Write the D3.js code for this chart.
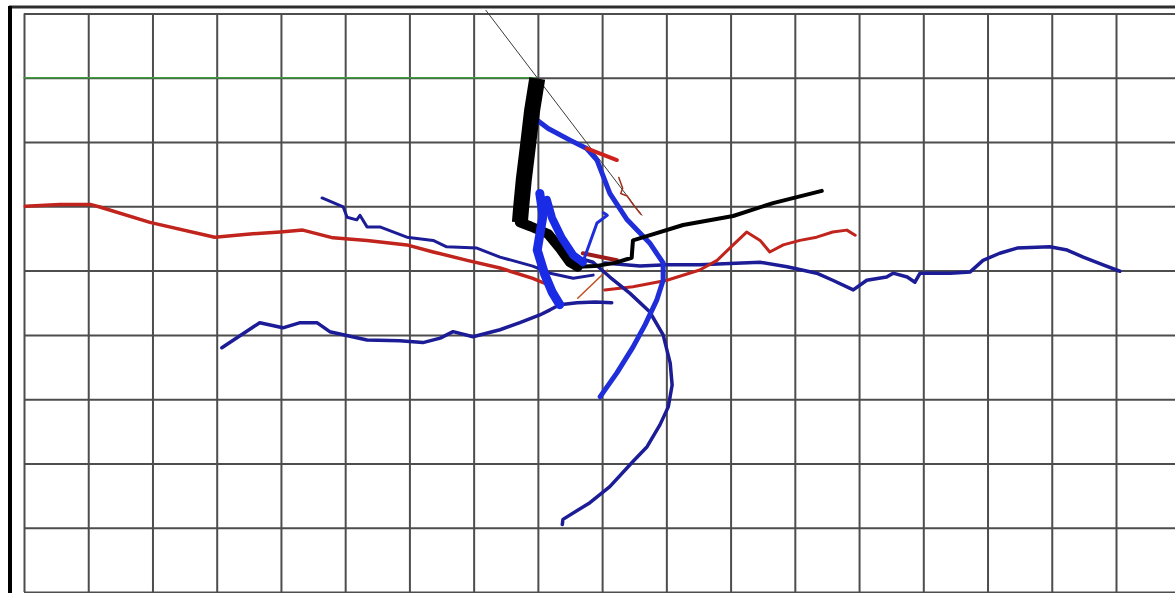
<!DOCTYPE html>
<html>
<head>
<meta charset="utf-8">
<script src="https://cdn.jsdelivr.net/npm/d3@7"></script>
<style>
  body { margin: 0; background: #fff; }
  svg { display: block; }
</style>
</head>
<body>
<div id="chart"></div>
<script>
// grid ticks (grid units)
var xTicks = d3.range(0, 19);
var yTicks = d3.range(0, 10);

// traces, [x, y] in grid units, y counted downward
var redLeft = [[0.02,3.00],[0.56,2.97],[1.03,2.97],[1.18,3.01],[1.96,3.25],[2.97,3.48],[3.52,3.43],[3.99,3.40],[4.34,3.37],[4.81,3.49],[5.34,3.53],[5.96,3.60],[6.37,3.71],[6.90,3.84],[7.41,3.96],[7.92,4.12],[8.16,4.22]];
var blueUpperLeft = [[4.64,2.87],[4.97,3.01],[5.03,3.17],[5.18,3.21],[5.23,3.14],[5.34,3.32],[5.54,3.32],[5.96,3.48],[6.37,3.53],[6.58,3.63],[7.05,3.65],[7.41,3.79],[7.92,3.93],[8.19,4.04],[8.55,4.12],[8.86,4.07]];
var blueLowerLeft = [[3.08,5.20],[3.67,4.81],[4.03,4.89],[4.30,4.81],[4.56,4.81],[4.76,4.95],[5.34,5.08],[5.85,5.09],[6.21,5.12],[6.48,5.05],[6.68,4.95],[6.99,5.03],[7.41,4.92],[7.72,4.81],[8.03,4.69],[8.19,4.61],[8.34,4.53],[8.61,4.50],[8.89,4.49],[9.15,4.50]];
var blueCentre = [[8.03,2.80],[8.08,3.14],[7.99,3.68],[8.11,4.07],[8.22,4.33],[8.34,4.53]];
var blueCentre2 = [[8.14,2.90],[8.22,3.18],[8.37,3.49],[8.55,3.76],[8.70,3.87]];
var blackThick = [[7.99,1.01],[7.91,1.51],[7.85,2.02],[7.78,2.59],[7.74,3.01],[7.72,3.25]];
var blackMid = [[7.72,3.25],[7.88,3.31],[8.16,3.43],[8.34,3.65],[8.50,3.87],[8.62,3.94]];
var blackThin = [[8.62,3.94],[8.89,3.93],[9.20,3.88],[9.46,3.80],[9.48,3.53],[9.71,3.46],[10.26,3.29],[11.04,3.15],[11.66,2.95],[12.42,2.76]];
var blueArc = [[7.99,1.66],[8.16,1.79],[8.50,1.97],[8.76,2.10],[8.92,2.28],[9.12,2.80],[9.39,3.21],[9.74,3.57],[9.95,3.88],[9.95,4.15],[9.85,4.46],[9.67,4.84],[9.48,5.19],[9.23,5.59],[8.97,5.96]];
var blueDown = [[8.62,3.80],[8.86,3.87],[9.12,4.10],[9.43,4.35],[9.74,4.64],[9.95,5.00],[10.06,5.44],[10.09,5.78],[10.03,6.12],[9.90,6.40],[9.70,6.74],[9.48,6.97],[9.12,7.36],[8.81,7.61],[8.39,7.87],[8.38,7.95]];
var blueRight = [[9.04,3.88],[9.59,3.93],[10.01,3.91],[10.52,3.91],[11.46,3.87],[11.88,3.94],[12.34,4.04],[12.59,4.15],[12.91,4.30],[13.12,4.15],[13.43,4.10],[13.53,4.04],[13.75,4.10],[13.87,4.18],[13.95,4.04],[14.42,4.04],[14.73,4.02],[14.93,3.84],[15.19,3.73],[15.46,3.65],[15.97,3.63],[16.24,3.68],[16.49,3.79],[16.80,3.91],[17.06,4.01]];
var redRight = [[9.04,4.30],[9.48,4.25],[10.01,4.15],[10.52,3.99],[10.79,3.84],[11.04,3.60],[11.25,3.40],[11.46,3.53],[11.61,3.71],[11.82,3.60],[12.08,3.53],[12.34,3.48],[12.59,3.40],[12.81,3.37],[12.94,3.45]];
var redShort = [[8.62,4.43],[9.08,3.99]];
var redCentre = [[8.70,3.73],[9.23,3.84]];
var redTop = [[8.76,2.10],[9.23,2.28]];
var redSquiggle = [[9.26,2.55],[9.32,2.72],[9.29,2.80],[9.39,2.84],[9.48,2.97],[9.60,3.12]];
var blueSpur = [[8.70,3.87],[8.92,3.26],[9.08,3.14],[9.02,3.10]];
var diagonal = [[7.19,-0.05],[9.62,3.14]];
var greenLevel = [[0,1.0],[7.95,1.0]];

var width = 1175, height = 593;

var x = d3.scaleLinear().domain([0, 17]).range([24, 1116]);
var y = d3.scaleLinear().domain([0, 9]).range([13.5, 592]);

var svg = d3.select("#chart").append("svg")
    .attr("width", width).attr("height", height);

// grid
svg.append("g")
    .attr("transform", "translate(0," + y(0) + ")")
    .call(d3.axisBottom(x).tickValues(xTicks).tickSize(y(9) - y(0)).tickFormat(""))
    .call(function(g) { g.select(".domain").remove(); })
    .selectAll("line").attr("stroke", "#4d4d4d").attr("stroke-width", 2);

svg.append("g")
    .attr("transform", "translate(" + x(0) + ",0)")
    .call(d3.axisRight(y).tickValues(yTicks).tickSize(width - x(0)).tickFormat(""))
    .call(function(g) { g.select(".domain").remove(); })
    .selectAll("line").attr("stroke", "#4d4d4d").attr("stroke-width", 2);

// frame
svg.append("line")
    .attr("x1", 9).attr("x2", width).attr("y1", 7).attr("y2", 7)
    .attr("stroke", "#2e2e2e").attr("stroke-width", 3);
svg.append("line")
    .attr("x1", 10).attr("x2", 10).attr("y1", 6).attr("y2", height)
    .attr("stroke", "#000").attr("stroke-width", 4);

var line = d3.line()
    .x(function(d) { return x(d[0]); })
    .y(function(d) { return y(d[1]); });

function trace(data, color, w, cap) {
  svg.append("path")
      .datum(data)
      .attr("d", line)
      .attr("fill", "none")
      .attr("stroke", color)
      .attr("stroke-width", w)
      .attr("stroke-linejoin", "round")
      .attr("stroke-linecap", cap || "round");
}

trace(greenLevel, "#3f9c3f", 1.5);
trace(diagonal, "#3a3a3a", 1);

trace(redLeft, "#c0241c", 3.5);
trace(blueUpperLeft, "#1c1c96", 3);
trace(blueLowerLeft, "#1c1c96", 3.5);
trace(blueRight, "#1c1c96", 3.5);
trace(redRight, "#c0241c", 3);
trace(redShort, "#c0501c", 1.5);
trace(redSquiggle, "#a0301c", 1.5);
trace(blueDown, "#1c1c96", 3.5);
trace(blueArc, "#1f2ed8", 5);
trace(redTop, "#d0201c", 4);
trace(redCentre, "#a01c1c", 4);
trace(blueSpur, "#1f2ed8", 3);
trace(blackThin, "#000", 4);
trace(blackMid, "#000", 10);
trace(blueCentre2, "#1a2be6", 8);
trace(blueCentre, "#1a2be6", 9);
trace(blackThick, "#000", 16, "butt");
</script>
</body>
</html>
